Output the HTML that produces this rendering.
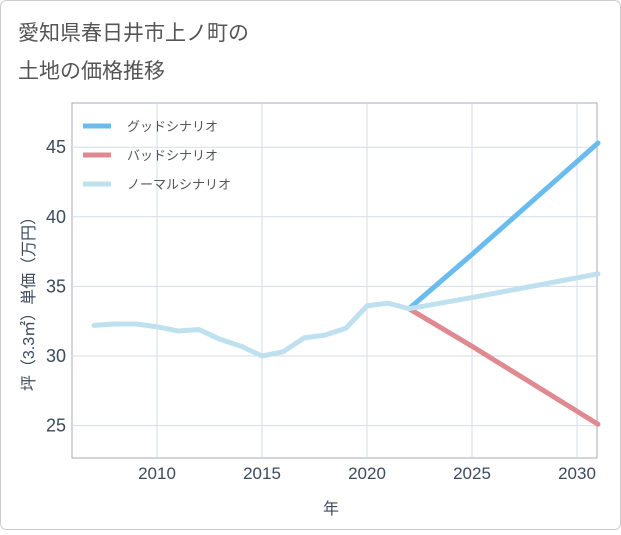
<!DOCTYPE html>
<html><head><meta charset="utf-8"><style>
body{margin:0;background:#fff;}
svg text{font-family:"Liberation Sans","Noto Sans CJK JP",sans-serif;}
</style></head><body>
<svg width="621" height="530" xmlns="http://www.w3.org/2000/svg">
<rect x="0.5" y="0.5" width="620" height="529" rx="6" fill="#fff" stroke="#ccc"/>
<text x="18" y="40" font-size="21" fill="#555">愛知県春日井市上ノ町の</text>
<text x="18" y="78" font-size="21" fill="#555">土地の価格推移</text>
<g id="grid"></g>
<g id="series"></g>
<g id="legend"></g>
<text x="331" y="514" font-size="16" fill="#3d4a5c" text-anchor="middle">年</text>
<text transform="translate(34,300) rotate(-90)" font-size="16" fill="#3d4a5c" text-anchor="middle">坪（3.3㎡）単価（万円）</text>
</svg>
<script>
const years=[2007,2008,2009,2010,2011,2012,2013,2014,2015,2016,2017,2018,2019,2020,2021,2022];
const normalHist=[32.2,32.3,32.3,32.1,31.8,31.9,31.2,30.7,30.0,30.3,31.3,31.5,32.0,33.6,33.8,33.4];
const projYears=[2022,2025,2031];
const goodVals=[33.4,37.3,45.3];
const badVals=[33.4,30.7,25.1];
const normalProj=[33.4,34.2,35.9];
const xTicks=[2010,2015,2020,2025,2030];
const yTicks=[25,30,35,40,45];
const NS="http://www.w3.org/2000/svg";
const L=72,R=597,T=103,B=458;
const xs=y=>157+(y-2010)*21;
const ys=v=>356-(v-30)*13.92;
function mk(tag,attrs,parent){const e=document.createElementNS(NS,tag);for(const k in attrs)e.setAttribute(k,attrs[k]);parent.appendChild(e);return e;}
const grid=document.getElementById('grid');
const frame=mk('rect',{x:L,y:T,width:R-L,height:B-T,fill:'none',stroke:'#aab','stroke-width':1},grid);


xTicks.forEach(t=>{
 const l=mk('line',{x1:xs(t),x2:xs(t),y1:T,y2:B,stroke:'#d5dde6'},grid);
 
 
 const tx=mk('text',{x:xs(t),y:479,'font-size':17,fill:'#3d4a5c','text-anchor':'middle'},grid);
 tx.textContent=t;
 
 
});
yTicks.forEach(t=>{
 const l=mk('line',{x1:L,x2:R,y1:ys(t),y2:ys(t),stroke:'#d5dde6'},grid);
 
 
 const tx=mk('text',{x:66,y:ys(t)+6,'font-size':18,fill:'#3d4a5c','text-anchor':'end'},grid);
 tx.textContent=t;
 
 
});
const S=document.getElementById('series');
function line(xv,yv,color,name){
 const p=mk('polyline',{points:xv.map((x,i)=>xs(x)+','+ys(yv[i])).join(' '),fill:'none',stroke:color,'stroke-width':5,'stroke-linejoin':'round','stroke-linecap':'round'},S);
 
 
}
line(projYears,goodVals,'#6bbcee','good-scenario-line');
line(projYears,badVals,'#de8a90','bad-scenario-line');
line(years,normalHist,'#bfe0ee','normal-history-line');
line(projYears,normalProj,'#bfe0ee','normal-scenario-line');
const Lg=document.getElementById('legend');
[['グッドシナリオ','#6bbcee'],['バッドシナリオ','#de8a90'],['ノーマルシナリオ','#bfe0ee']].forEach((d,i)=>{
 const y=126+i*29;
 const l=mk('line',{x1:83,x2:111,y1:y,y2:y,stroke:d[1],'stroke-width':5},Lg);
 
 
 const t=mk('text',{x:127,y:y+5,'font-size':13,fill:'#555'},Lg);
 t.textContent=d[0];
 
 
});
</script>
</body></html>
